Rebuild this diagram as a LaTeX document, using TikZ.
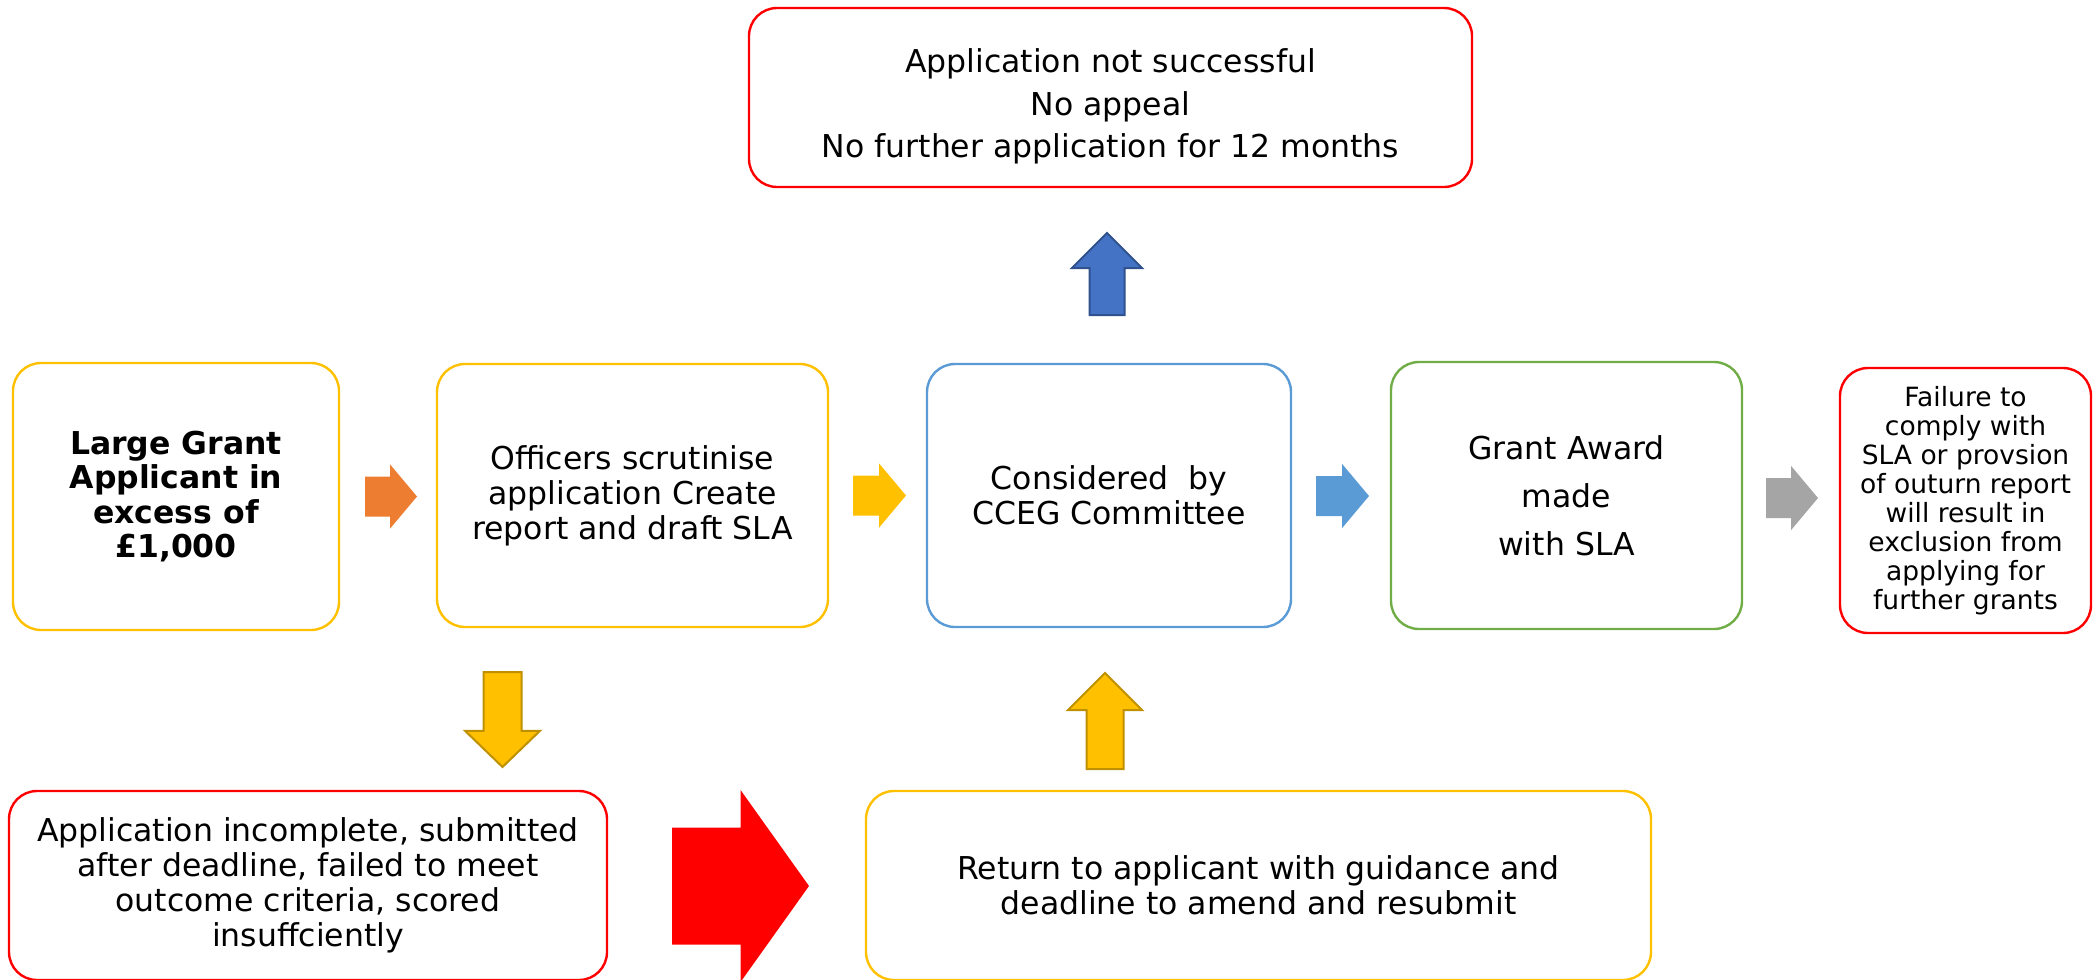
\documentclass[tikz,border=0pt]{standalone}
\usepackage{fontspec}
\setmainfont{DejaVu Sans}
\usetikzlibrary{shapes.arrows}

\begin{document}
\begin{tikzpicture}[x=1pt, y=-1pt,
        stage/.style={draw, rounded corners=28pt, line width=2.4pt, align=center,
            inner sep=0pt, font=\fontsize{31.5}{35}\selectfont},
        pointer/.style={shape=single arrow, inner xsep=0pt, outer sep=0pt,
            anchor=tail, line width=2pt}]
        % Define colors
        \definecolor{gold}{HTML}{FFC000}
        \definecolor{golddark}{HTML}{BF9000}
        \definecolor{flame}{HTML}{ED7D31}
        \definecolor{sky}{HTML}{5B9BD5}
        \definecolor{navy}{HTML}{4472C4}
        \definecolor{navydark}{HTML}{2F528F}
        \definecolor{leaf}{HTML}{70AD47}
        \definecolor{ash}{HTML}{A5A5A5}
        \definecolor{alert}{HTML}{FF0000}

        \useasboundingbox (0,0) rectangle (2094,980);

        % Outcome at the top
        \node[stage, draw=alert, minimum width=723pt, minimum height=179pt,
            font=\fontsize{31.5}{42.5}\selectfont] (rejected) at (1110.5,97.5)
            {\rule{0pt}{42pt}Application not successful\\No appeal\\No further application for 12 months};

        % Main row
        \node[stage, draw=gold, minimum width=326pt, minimum height=267pt,
            font=\bfseries\fontsize{31.5}{34.5}\selectfont] (applicant) at (176,496.5)
            {Large Grant\\Applicant in\\excess of\\£1,000};
        \node[stage, draw=gold, minimum width=391pt, minimum height=263pt] (scrutiny) at (632.5,495.5)
            {Officers scrutinise\\application Create\\report and draft SLA};
        \node[stage, draw=sky, minimum width=364pt, minimum height=263pt] (committee) at (1109,495.5)
            {Considered~ by\\CCEG Committee};
        \node[stage, draw=leaf, minimum width=351pt, minimum height=267pt,
            font=\fontsize{31.5}{48}\selectfont] (award) at (1566.5,495.5)
            {Grant Award\\made\\with SLA};
        \node[stage, draw=alert, minimum width=251pt, minimum height=265pt,
            font=\fontsize{26.5}{29}\selectfont] (failure) at (1965.5,500.5)
            {Failure to\\comply with\\SLA or provsion\\of outurn report\\will result in\\exclusion from\\applying for\\further grants};

        % Bottom row
        \node[stage, draw=alert, minimum width=598pt, minimum height=189pt] (incomplete) at (308,885.5)
            {Application incomplete, submitted\\after deadline, failed to meet\\outcome criteria, scored\\insuffciently};
        \node[stage, draw=gold, minimum width=785pt, minimum height=189pt] (resubmit) at (1258.5,885.5)
            {Return to applicant with guidance and\\deadline to amend and resubmit};

        % Block arrows along the main row
        \node[pointer, fill=flame, inner ysep=19pt, single arrow head extend=12pt,
            single arrow tip angle=100, minimum height=52pt] (a1) at (365,496.5) {};
        \node[pointer, fill=gold, inner ysep=19pt, single arrow head extend=12pt,
            single arrow tip angle=100, minimum height=53pt] (a2) at (853,495.5) {};
        \node[pointer, fill=sky, inner ysep=19pt, single arrow head extend=12pt,
            single arrow tip angle=100, minimum height=53pt] (a3) at (1316,496) {};
        \node[pointer, fill=ash, inner ysep=19pt, single arrow head extend=12pt,
            single arrow tip angle=100, minimum height=52pt] (a4) at (1766,498) {};

        % Block arrows up and down
        \node[pointer, fill=navy, draw=navydark, rotate=90, inner ysep=16.5pt,
            single arrow head extend=17.5pt, single arrow tip angle=90,
            minimum height=82pt] (up1) at (1107,315) {};
        \node[pointer, fill=gold, draw=golddark, rotate=-90, inner ysep=18pt,
            single arrow head extend=18.5pt, single arrow tip angle=92,
            minimum height=95pt] (down1) at (502.5,672) {};
        \node[pointer, fill=gold, draw=golddark, rotate=90, inner ysep=17.5pt,
            single arrow head extend=18.5pt, single arrow tip angle=90,
            minimum height=96pt] (up2) at (1105,769) {};

        % Big arrow along the bottom row
        \node[pointer, fill=alert, inner ysep=57.5pt, single arrow head extend=37.5pt,
            single arrow tip angle=109, minimum height=137pt] (a5) at (672,886) {};

    \end{tikzpicture}
\end{document}
